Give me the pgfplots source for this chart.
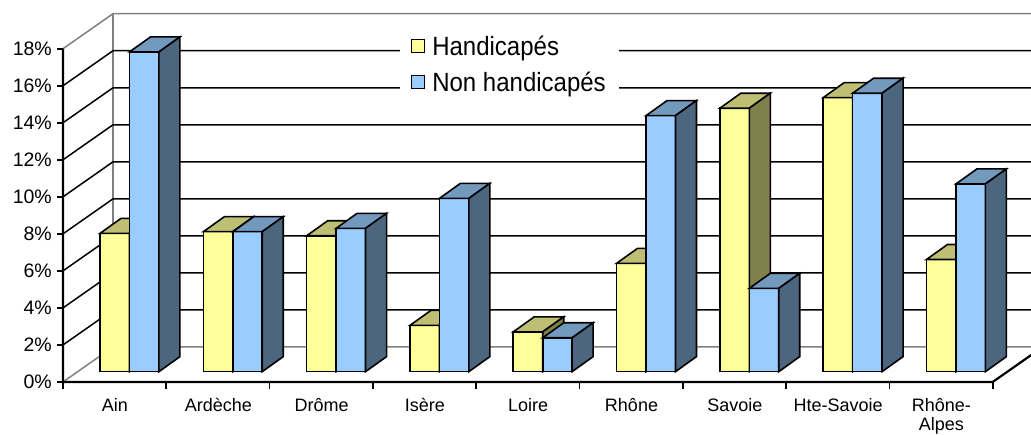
\documentclass[border=0pt]{standalone}
\usepackage{fontspec}
\setmainfont{Liberation Sans}
\usepackage{pgfplots}
\usepackage{pgfplotstable}
\pgfplotsset{compat=1.18}
\definecolor{hy}{HTML}{FFFF99}
\definecolor{hytop}{HTML}{BFBF73}
\definecolor{hyside}{HTML}{80804D}
\definecolor{nb}{HTML}{99CCFF}
\definecolor{nbtop}{HTML}{7399BF}
\definecolor{nbside}{HTML}{4D6680}
\definecolor{wallgrey}{HTML}{808080}

\pgfplotstableread{
x h n
0 7.47 17.27
1 7.56 7.56
2 7.34 7.74
3 2.50 9.36
4 2.15 1.83
5 5.85 13.83
6 14.23 4.50
7 14.80 15.04
8 6.06 10.14
}\data

\begin{document}
\begin{tikzpicture}
\begin{axis}[
  at={(0pt,0pt)}, anchor=south west,
  scale only axis, width=1031pt, height=434pt,
  xmin=-1.2536, xmax=8.7270, ymin=-3.3676, ymax=20.0757,
  axis line style={draw=none}, tick style={draw=none},
  xtick={0,...,8},
  xticklabels={Ain,Ardèche,Drôme,Isère,Loire,Rhône,Savoie,Hte-Savoie,{\begin{tabular}[t]{@{}c@{}}Rhône-\\[-3pt]Alpes\end{tabular}}},
  xticklabel style={anchor=base, inner sep=0pt, xshift=-14.5pt, yshift=22.5pt, font=\fontsize{18}{22}\selectfont},
  ytick={0,2,...,18},
  yticklabels={0\%,2\%,4\%,6\%,8\%,10\%,12\%,14\%,16\%,18\%},
  yticklabel style={anchor=east, inner sep=0pt, xshift=52pt, yshift=-10.3pt, font=\fontsize{19.5}{22}\selectfont},
  legend style={at={(axis cs:2.6186,18.40)}, anchor=north west, draw=none, fill=white,
    font=\fontsize{24}{28}\selectfont, inner xsep=11pt, inner ysep=3pt, row sep=11pt, column sep=5pt,
    nodes={inner sep=2pt}},
  legend cell align=left,
  legend image code/.code={\draw[#1,draw=black,line width=1.1pt] (0pt,-5.5pt) rectangle (13pt,7.5pt);},
]
% walls
\draw[wallgrey, line width=1.5pt] (axis cs:-0.1597,1.3351) -- (axis cs:-0.1597,19.3351);
\draw[wallgrey, line width=1.5pt] (axis cs:-0.6438,17.4432) -- (axis cs:-0.1597,19.3351) -- (axis cs:9.2,19.3351);
\draw[wallgrey, line width=1.5pt] (axis cs:-0.6438,-0.5568) -- (axis cs:-0.1597,1.3351) -- (axis cs:9.2,1.3351);
\pgfplotsinvokeforeach{2,4,...,16}{
  \draw[black, line width=1.5pt] (axis cs:-0.6438,{#1-0.5568}) -- (axis cs:-0.1597,{#1+1.3351}) -- (axis cs:9.2,{#1+1.3351});
}
% Handicapes
\addplot[ybar, bar width=0.285, bar shift=0pt, fill=hy, draw=black, line width=1.6pt]
  table[x expr=\thisrow{x}-0.1425, y=h] {\data};
\addlegendentry{\scalebox{1}[1.1]{Handicapés}}
\pgfplotsinvokeforeach{0,...,8}{
  \pgfplotstablegetelem{#1}{h}\of\data
  \pgfmathsetmacro\V{\pgfplotsretval}
  \pgfmathsetmacro\XA{#1-0.285}
  \pgfmathsetmacro\XB{#1}
  \pgfmathsetmacro\XC{#1+0.2033}
  \pgfmathsetmacro\XD{#1-0.285+0.2033}
  \pgfmathsetmacro\VT{\V+0.8108}
  \edef\temp{\noexpand\addplot[fill=hytop,draw=black,line width=1.6pt,forget plot] coordinates {(\XA,\V) (\XB,\V) (\XC,\VT) (\XD,\VT)} -- cycle;
   \noexpand\addplot[fill=hyside,draw=black,line width=1.6pt,forget plot] coordinates {(\XB,0) (\XB,\V) (\XC,\VT) (\XC,0.8108)} -- cycle;}
  \temp
}
% Non handicapes
\addplot[ybar, bar width=0.285, bar shift=0pt, fill=nb, draw=black, line width=1.6pt]
  table[x expr=\thisrow{x}+0.1425, y=n] {\data};
\addlegendentry{\scalebox{1}[1.1]{Non handicapés}}
\pgfplotsinvokeforeach{0,...,8}{
  \pgfplotstablegetelem{#1}{n}\of\data
  \pgfmathsetmacro\V{\pgfplotsretval}
  \pgfmathsetmacro\XA{#1}
  \pgfmathsetmacro\XB{#1+0.285}
  \pgfmathsetmacro\XC{#1+0.285+0.2033}
  \pgfmathsetmacro\XD{#1+0.2033}
  \pgfmathsetmacro\VT{\V+0.8108}
  \edef\temp{\noexpand\addplot[fill=nbtop,draw=black,line width=1.6pt,forget plot] coordinates {(\XA,\V) (\XB,\V) (\XC,\VT) (\XD,\VT)} -- cycle;
   \noexpand\addplot[fill=nbside,draw=black,line width=1.6pt,forget plot] coordinates {(\XB,0) (\XB,\V) (\XC,\VT) (\XC,0.8108)} -- cycle;}
  \temp
}
% front frame
\draw[black, line width=2.2pt] (axis cs:-0.6438,17.4432) -- (axis cs:-0.6438,-0.5568) -- (axis cs:8.3563,-0.5568) -- (axis cs:8.8404,1.3351);
\pgfplotsinvokeforeach{0,2,...,18}{
  \draw[black, line width=1.6pt] (axis cs:-0.6438,{#1-0.5568}) -- ++(-6pt,0pt);
}
\pgfplotsinvokeforeach{0,...,9}{
  \draw[black, line width=1.6pt] (axis cs:{#1-0.6438},-0.5568) -- ++(0pt,-7pt);
}
\end{axis}
\pgfresetboundingbox
\path (0pt,0pt) rectangle (1031pt,434pt);
\end{tikzpicture}
\end{document}
